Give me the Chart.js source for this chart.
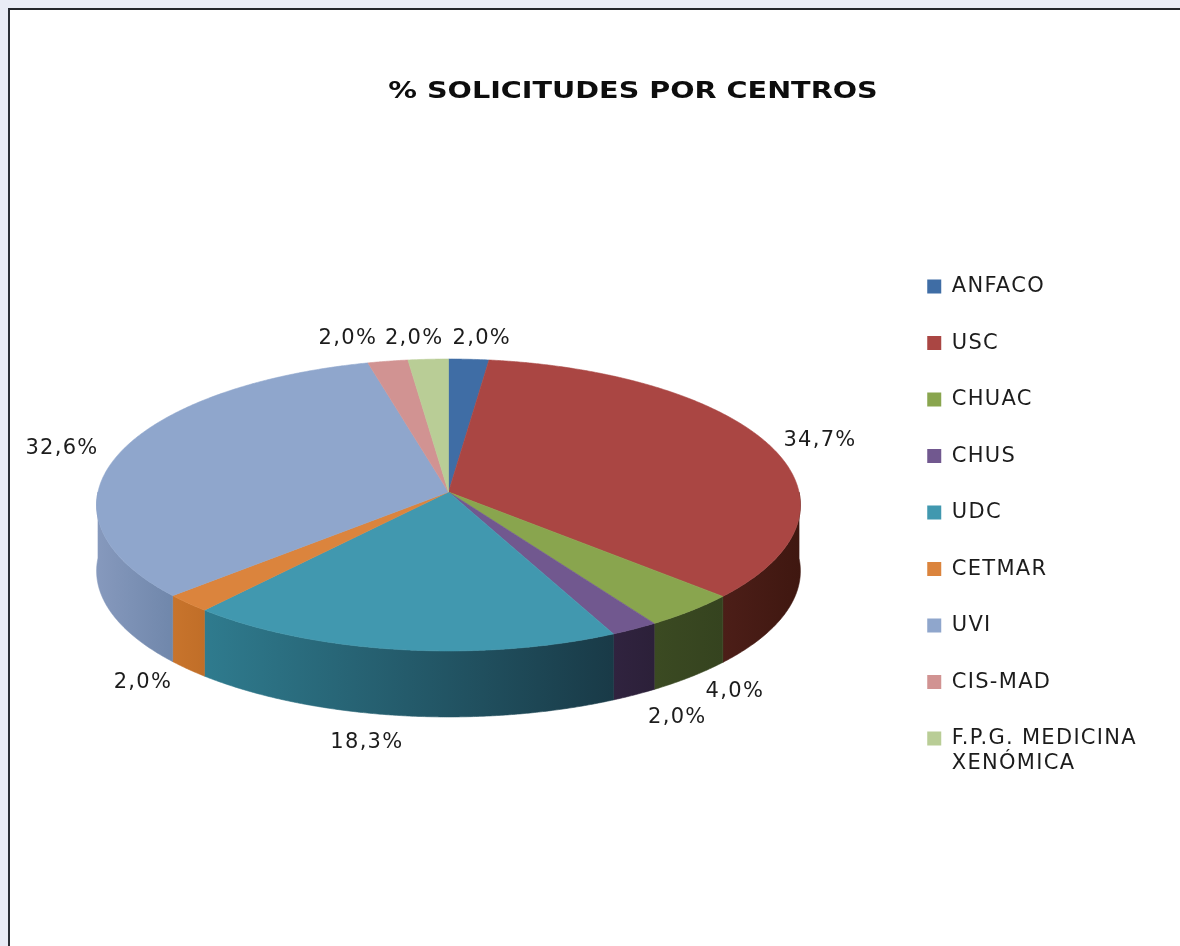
<!DOCTYPE html>
<html><head><meta charset="utf-8">
<style>
html,body{margin:0;padding:0;width:1180px;height:946px;overflow:hidden;background:#e9ecf6}
#frame{position:absolute;left:8px;top:8px;width:1172px;height:938px;box-sizing:border-box;background:#fff;border-left:2px solid #2b2f36;border-top:2px solid #23262c}
#c{position:absolute;left:0;top:0;width:1180px;height:946px;filter:blur(0.45px)}
</style>
<script src="https://cdn.jsdelivr.net/npm/chart.js@4"></script>
</head><body>
<div id="frame"></div>
<canvas id="c" width="1180" height="946"></canvas>
<script>
const chartTitle = '% SOLICITUDES POR CENTROS';
const categories = ['ANFACO','USC','CHUAC','CHUS','UDC','CETMAR','UVI','CIS-MAD',['F.P.G. MEDICINA','XENÓMICA']];
const values = [2.0,34.7,4.0,2.0,18.3,2.0,32.6,2.0,2.0];
const topColors = ['#3f6da5','#aa4643','#89a54e','#71588f','#4198af','#db843d','#8fa6cc','#d19392','#b9cd96'];
const wallStart = ['#2d4e76','#4c1e18','#3b4a22','#30233f','#2f7b8e','#c8742c','#8699bd','#99696a','#869570'];
const wallEnd   = ['#2d4e76','#3f1710','#35431f','#2c2039','#193a47','#c06e28','#7087ab','#99696a','#869570'];
const labelOffsets = [[13,-21],[52,-3],[44,81],[43,89],[-32,93],[-45,79],[-59,-3],[-40,-23],[-14,-21]];

// Projection of the pie disc: centre, radii, perspective, depth of the wall
const view = {cx:448.5, cy:492, rx:350.5, ry:144.8, k:0.089, depth:66};
const textSpacing = '1.3px', titleStretch = 1.245;
function project(a){
  const u=Math.cos(a), v=Math.sin(a), w=1-view.k*v;
  return [view.cx+view.rx*u/w, view.cy+view.ry*v/w];
}
const pie3d = {
  id:'pie3d',
  beforeLayout(chart){ chart.ctx.letterSpacing=textSpacing; },
  beforeDraw(chart){
    const t=chart.titleBlock;
    if(t && !t._wide){
      const d=t.draw;
      t.draw=function(...args){
        const c=this.ctx, mid=(this.left+this.right)/2;
        c.save();
        c.letterSpacing='0px';
        c.translate(mid,0); c.scale(titleStretch,1); c.translate(-mid,0);
        d.apply(this,args);
        c.restore();
      };
      t._wide=true;
    }
    chart.ctx.letterSpacing=textSpacing;
  },
  beforeDatasetsDraw(chart){
    const ctx=chart.ctx, arcs=chart.getDatasetMeta(0).data;
    ctx.save();
    // side walls
    arcs.forEach((arc,i)=>{
      const pts=[];
      const n=Math.max(4,Math.ceil((arc.endAngle-arc.startAngle)*180));
      for(let j=0;j<=n;j++){
        const a=arc.startAngle+(arc.endAngle-arc.startAngle)*j/n;
        if(Math.sin(a)>0) pts.push(project(a));
      }
      if(pts.length<2) return;
      const xs=pts.map(p=>p[0]);
      const x0=Math.min(...xs), x1=Math.max(...xs);
      const g=ctx.createLinearGradient(x0,0,x1,0);
      g.addColorStop(0,wallStart[i]); g.addColorStop(1,wallEnd[i]);
      ctx.beginPath();
      pts.forEach((p,j)=>j?ctx.lineTo(p[0],p[1]):ctx.moveTo(p[0],p[1]));
      for(let j=pts.length-1;j>=0;j--) ctx.lineTo(pts[j][0],pts[j][1]+view.depth);
      ctx.closePath();
      ctx.fillStyle=g; ctx.strokeStyle=g; ctx.lineWidth=0.6;
      ctx.fill(); ctx.stroke();
    });
    // top faces
    arcs.forEach((arc,i)=>{
      const n=Math.max(4,Math.ceil((arc.endAngle-arc.startAngle)*180));
      ctx.beginPath();
      ctx.moveTo(view.cx,view.cy);
      for(let j=0;j<=n;j++){
        const p=project(arc.startAngle+(arc.endAngle-arc.startAngle)*j/n);
        ctx.lineTo(p[0],p[1]);
      }
      ctx.closePath();
      ctx.fillStyle=topColors[i]; ctx.strokeStyle=topColors[i]; ctx.lineWidth=0.6;
      ctx.fill(); ctx.stroke();
    });
    // value labels
    ctx.font='21px "DejaVu Sans"';
    ctx.fillStyle='#1c1c1c'; ctx.textAlign='center'; ctx.textBaseline='middle';
    arcs.forEach((arc,i)=>{
      const p=project((arc.startAngle+arc.endAngle)/2);
      ctx.fillText(values[i].toFixed(1).replace('.',',')+'%',p[0]+labelOffsets[i][0],p[1]+labelOffsets[i][1]);
    });
    ctx.restore();
    return false;
  }
};
new Chart(document.getElementById('c'),{
  type:'pie',
  data:{labels:categories,datasets:[{data:values,backgroundColor:topColors,borderWidth:0}]},
  plugins:[pie3d],
  options:{
    responsive:false,animation:false,
    layout:{padding:{left:119,top:78,right:33,bottom:0}},
    plugins:{
      title:{display:true,text:chartTitle,color:'#0d0d0d',font:{family:'"DejaVu Sans"',size:23,weight:'bold'},padding:{top:0,bottom:135}},
      tooltip:{enabled:false},
      legend:{position:'right',align:'start',fullSize:false,
        labels:{boxWidth:14,boxHeight:14,padding:35.5,color:'#1c1c1c',font:{family:'"DejaVu Sans"',size:21}}
      }
    }
  }
});
</script>
</body></html>
